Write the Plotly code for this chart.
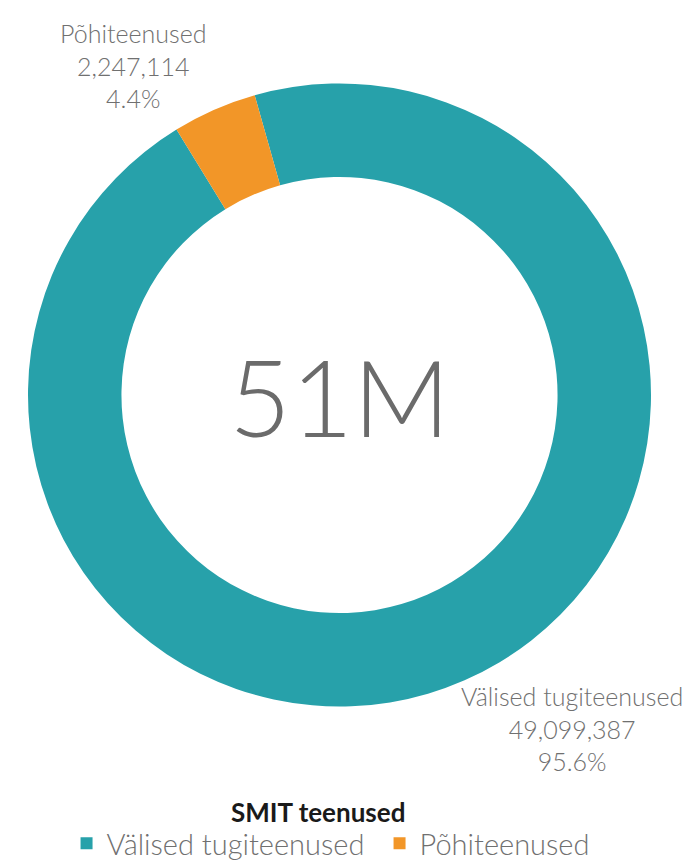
import plotly.graph_objects as go

labels = ["Välised tugiteenused", "Põhiteenused"]
values = [49099387, 2247114]
colors = ["#27A1AA", "#F29628"]
legend_title = "SMIT teenused"

W, H = 691, 861
M = dict(l=20, r=48, t=75, b=162)

total = sum(values)
center_text = f"{round(total / 1e6)}M"


def px_to_paper(x, y):
    pw = W - M["l"] - M["r"]
    ph = H - M["t"] - M["b"]
    return (x - M["l"]) / pw, 1 - (y - M["t"]) / ph


# label block centres (figure pixels) for each slice
label_pos = [(564, 720), (125, 57)]

annotations = []
for lab, val, (lx, ly) in zip(labels, values, label_pos):
    px, py = px_to_paper(lx, ly)
    annotations.append(dict(
        text=f"{lab}<br>{val:,}<br>{val / total * 100:.1f}%",
        x=px, y=py, xref="paper", yref="paper",
        xanchor="center", yanchor="middle", align="center",
        showarrow=False,
        font=dict(family="Lato", size=25, color="#707070", weight=300),
    ))

annotations.append(dict(
    text=center_text, x=0.5, y=0.5, xref="paper", yref="paper",
    showarrow=False,
    font=dict(family="Lato", size=107, color="#6b6b6b", weight=300),
))

# legend title drawn as its own text, centred like the reference
tx, ty = px_to_paper(310, 804)
annotations.append(dict(
    text=f"<b>{legend_title}</b>", x=tx, y=ty, xref="paper", yref="paper",
    xanchor="center", yanchor="middle", showarrow=False,
    font=dict(family="Lato", size=26, color="#1a1a1a"),
))

fig = go.Figure(go.Pie(
    labels=labels,
    values=values,
    hole=0.70,
    sort=False,
    direction="clockwise",
    rotation=-15.8,
    marker=dict(colors=colors, line=dict(width=0)),
    textinfo="none",
    hoverinfo="label+value+percent",
    domain=dict(x=[0, 1], y=[0, 1]),
))

fig.update_layout(
    width=W, height=H,
    margin=M,
    paper_bgcolor="white",
    plot_bgcolor="white",
    showlegend=True,
    legend=dict(
        orientation="h",
        x=0.5377, xanchor="center", xref="container",
        y=(H - 810) / H, yanchor="top", yref="container",
        entrywidth=268, entrywidthmode="pixels",
        font=dict(family="Lato", size=29, color="#707070", weight=300),
        itemsizing="constant",
    ),
    annotations=annotations,
)

fig.write_html("out.html")
